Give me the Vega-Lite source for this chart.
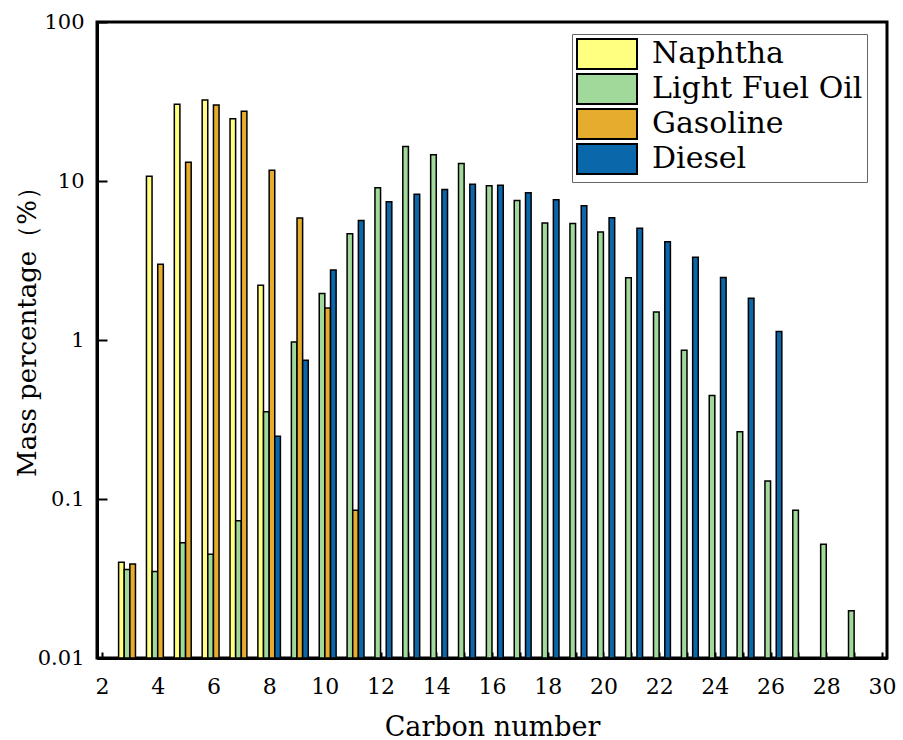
{
  "$schema": "https://vega.github.io/schema/vega-lite/v6.json",
  "width": 790,
  "height": 636,
  "autosize": {"type": "none"},
  "padding": {"left": 97, "top": 22, "right": 16, "bottom": 82},
  "background": "white",
  "config": {
    "font": "DejaVu Serif",
    "view": {"stroke": "black", "strokeWidth": 3}
  },
  "data": {
    "values": [
      {"c": 3, "s": "Naphtha", "v": 0.040},
      {"c": 4, "s": "Naphtha", "v": 10.7},
      {"c": 5, "s": "Naphtha", "v": 30.4},
      {"c": 6, "s": "Naphtha", "v": 32.3},
      {"c": 7, "s": "Naphtha", "v": 24.6},
      {"c": 8, "s": "Naphtha", "v": 2.21},
      {"c": 3, "s": "Light Fuel Oil", "v": 0.036},
      {"c": 4, "s": "Light Fuel Oil", "v": 0.035},
      {"c": 5, "s": "Light Fuel Oil", "v": 0.053},
      {"c": 6, "s": "Light Fuel Oil", "v": 0.045},
      {"c": 7, "s": "Light Fuel Oil", "v": 0.073},
      {"c": 8, "s": "Light Fuel Oil", "v": 0.354},
      {"c": 9, "s": "Light Fuel Oil", "v": 0.97},
      {"c": 10, "s": "Light Fuel Oil", "v": 1.96},
      {"c": 11, "s": "Light Fuel Oil", "v": 4.66},
      {"c": 12, "s": "Light Fuel Oil", "v": 9.08},
      {"c": 13, "s": "Light Fuel Oil", "v": 16.5},
      {"c": 14, "s": "Light Fuel Oil", "v": 14.6},
      {"c": 15, "s": "Light Fuel Oil", "v": 12.9},
      {"c": 16, "s": "Light Fuel Oil", "v": 9.35},
      {"c": 17, "s": "Light Fuel Oil", "v": 7.55},
      {"c": 18, "s": "Light Fuel Oil", "v": 5.44},
      {"c": 19, "s": "Light Fuel Oil", "v": 5.41},
      {"c": 20, "s": "Light Fuel Oil", "v": 4.78},
      {"c": 21, "s": "Light Fuel Oil", "v": 2.46},
      {"c": 22, "s": "Light Fuel Oil", "v": 1.50},
      {"c": 23, "s": "Light Fuel Oil", "v": 0.863},
      {"c": 24, "s": "Light Fuel Oil", "v": 0.448},
      {"c": 25, "s": "Light Fuel Oil", "v": 0.265},
      {"c": 26, "s": "Light Fuel Oil", "v": 0.130},
      {"c": 27, "s": "Light Fuel Oil", "v": 0.085},
      {"c": 28, "s": "Light Fuel Oil", "v": 0.052},
      {"c": 29, "s": "Light Fuel Oil", "v": 0.0198},
      {"c": 3, "s": "Gasoline", "v": 0.039},
      {"c": 4, "s": "Gasoline", "v": 3.0},
      {"c": 5, "s": "Gasoline", "v": 13.1},
      {"c": 6, "s": "Gasoline", "v": 30.1},
      {"c": 7, "s": "Gasoline", "v": 27.5},
      {"c": 8, "s": "Gasoline", "v": 11.7},
      {"c": 9, "s": "Gasoline", "v": 5.86},
      {"c": 10, "s": "Gasoline", "v": 1.59},
      {"c": 11, "s": "Gasoline", "v": 0.085},
      {"c": 8, "s": "Diesel", "v": 0.248},
      {"c": 9, "s": "Diesel", "v": 0.746},
      {"c": 10, "s": "Diesel", "v": 2.76},
      {"c": 11, "s": "Diesel", "v": 5.65},
      {"c": 12, "s": "Diesel", "v": 7.4},
      {"c": 13, "s": "Diesel", "v": 8.26},
      {"c": 14, "s": "Diesel", "v": 8.85},
      {"c": 15, "s": "Diesel", "v": 9.55},
      {"c": 16, "s": "Diesel", "v": 9.4},
      {"c": 17, "s": "Diesel", "v": 8.43},
      {"c": 18, "s": "Diesel", "v": 7.63},
      {"c": 19, "s": "Diesel", "v": 7.0},
      {"c": 20, "s": "Diesel", "v": 5.88},
      {"c": 21, "s": "Diesel", "v": 5.04},
      {"c": 22, "s": "Diesel", "v": 4.15},
      {"c": 23, "s": "Diesel", "v": 3.31},
      {"c": 24, "s": "Diesel", "v": 2.47},
      {"c": 25, "s": "Diesel", "v": 1.83},
      {"c": 26, "s": "Diesel", "v": 1.13}
    ]
  },
  "encoding": {
    "x": {
      "field": "c",
      "type": "quantitative",
      "scale": {"domain": [2, 30], "nice": false, "zero": false},
      "axis": {
        "values": [2, 3, 4, 5, 6, 7, 8, 9, 10, 11, 12, 13, 14, 15, 16, 17, 18, 19, 20, 21, 22, 23, 24, 25, 26, 27, 28, 29, 30],
        "labelExpr": "datum.value % 2 === 0 ? datum.label : ''",
        "title": "Carbon number",
        "grid": false,
        "domainColor": "black",
        "domainWidth": 3,
        "tickColor": "black",
        "tickWidth": 2,
        "tickSize": -6,
        "encode": {
          "ticks": {"update": {"y2": {"signal": "datum.value % 2 === 0 ? -6 : -3"}}}
        },
        "labelFontSize": 22,
        "labelColor": "black",
        "labelPadding": 24,
        "labelFlush": false,
        "labelOverlap": false,
        "titleFontSize": 27,
        "titleFontWeight": "normal",
        "titleColor": "black",
        "titleY": 77,
        "titleBaseline": "alphabetic"
      }
    },
    "y": {
      "field": "v",
      "type": "quantitative",
      "scale": {"type": "log", "domain": [0.01, 100], "nice": false},
      "axis": {
        "values": [0.01, 0.1, 1, 10, 100],
        "labelExpr": "datum.value >= 1 ? format(datum.value, 'd') : format(datum.value, '~g')",
        "title": "Mass percentage（%）",
        "grid": false,
        "domainColor": "black",
        "domainWidth": 3,
        "tickColor": "black",
        "tickWidth": 2,
        "tickSize": -10,
        "labelFontSize": 21,
        "labelColor": "black",
        "labelPadding": 23,
        "labelFlush": false,
        "titleFontSize": 26,
        "titleFontWeight": "normal",
        "titleColor": "black",
        "titleAngle": 270,
        "titleX": -70,
        "titleY": 303,
        "titleAlign": "center",
        "titleBaseline": "middle"
      }
    },
    "y2": {"datum": 0.01},
    "color": {
      "field": "s",
      "type": "nominal",
      "scale": {
        "domain": ["Naphtha", "Light Fuel Oil", "Gasoline", "Diesel"],
        "range": ["#FFFF80", "#A1D99B", "#E6AC2E", "#0A67AA"]
      },
      "legend": {
        "title": null,
        "orient": "none",
        "legendX": 475,
        "legendY": 12,
        "padding": 4,
        "strokeColor": "#666666",
        "fillColor": "white",
        "symbolType": "M-2,-1H2V1H-2Z",
        "symbolSize": 900,
        "symbolOffset": 15,
        "symbolStrokeColor": "black",
        "symbolStrokeWidth": 2,
        "symbolOpacity": 1,
        "labelOffset": 29,
        "labelFontSize": 30,
        "labelColor": "black",
        "labelLimit": 400,
        "rowPadding": -4
      }
    }
  },
  "layer": [
    {
      "transform": [{"filter": "datum.s === 'Naphtha'"}],
      "mark": {"type": "bar", "width": 5.6, "xOffset": -8.46, "stroke": "black", "strokeWidth": 1.5}
    },
    {
      "transform": [{"filter": "datum.s === 'Light Fuel Oil'"}],
      "mark": {"type": "bar", "width": 5.6, "xOffset": -2.82, "stroke": "black", "strokeWidth": 1.5}
    },
    {
      "transform": [{"filter": "datum.s === 'Gasoline'"}],
      "mark": {"type": "bar", "width": 5.6, "xOffset": 2.82, "stroke": "black", "strokeWidth": 1.5}
    },
    {
      "transform": [{"filter": "datum.s === 'Diesel'"}],
      "mark": {"type": "bar", "width": 5.6, "xOffset": 8.46, "stroke": "black", "strokeWidth": 1.5}
    }
  ]
}
